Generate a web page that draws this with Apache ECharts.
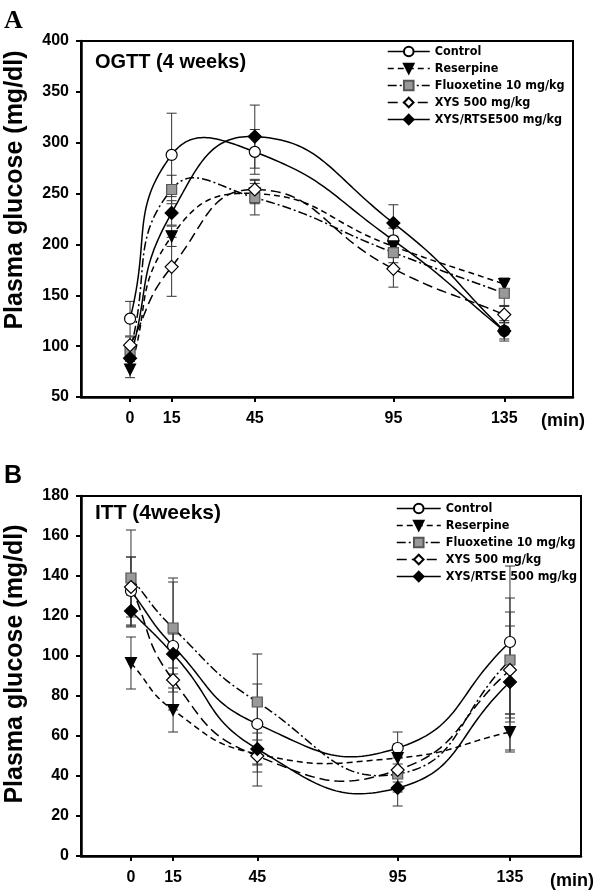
<!DOCTYPE html>
<html>
<head>
<meta charset="utf-8">
<script src="https://cdn.jsdelivr.net/npm/echarts@6/dist/echarts.min.js"></script>
<style>
html,body{margin:0;padding:0;background:#fff;}
#chart{width:600px;height:895px;}
</style>
</head>
<body>
<div id="chart"></div>
<script>
// ---- Data ----
const times = [0, 15, 45, 95, 135];
const namesA = ['Control', 'Reserpine', 'Fluoxetine 10 mg/kg', 'XYS 500 mg/kg', 'XYS/RTSE500 mg/kg'];
const namesB = ['Control', 'Reserpine', 'Fluoxetine 10 mg/kg', 'XYS 500 mg/kg', 'XYS/RTSE 500 mg/kg'];
const yTicksA = [50, 400, 50];   // min, max, step
const yTicksB = [0, 180, 20];

// OGTT (4 weeks) means and SE
const ogttControl    = [127, 288, 291, 204, 115];
const ogttControlSE  = [17, 41, 22, 12, 10];
const ogttReserpine  = [77, 208, 250, 198, 161];
const ogttReserpineSE= [8, 10, 10, 10, 6];
const ogttFluox      = [95, 254, 246, 192, 152];
const ogttFluoxSE    = [8, 14, 17, 10, 12];
const ogttXYS        = [101, 178, 254, 176, 131];
const ogttXYSSE      = [8, 29, 10, 18, 8];
const ogttRTSE       = [88, 231, 306, 221, 115];
const ogttRTSESE     = [6, 12, 31, 18, 8];

// ITT (4weeks) means and SE
const ittControl     = [132.5, 105, 66, 54, 107];
const ittControlSE   = [17, 32, 20, 8, 38];
const ittReserpine   = [96.5, 73, 51, 49, 62];
const ittReserpineSE = [13, 11, 16, 7, 9];
const ittFluox       = [139, 114, 77, 41, 98];
const ittFluoxSE     = [24, 25, 24, 9, 31];
const ittXYS         = [134.5, 88, 50, 43, 93];
const ittXYSSE       = [15, 6, 8, 6, 22];
const ittRTSE        = [122.5, 101, 53.5, 34, 87];
const ittRTSESE      = [8, 10, 8, 9, 35];

// ---- Styles ----
const FONT = '"Liberation Sans", Arial, sans-serif';
const NARROW = '"Liberation Sans Narrow", "DejaVu Sans Condensed", sans-serif';
const SMOOTH = 0.5;
const styles = [
  { symbol: 'circle', size: 11, fill: '#fff', border: '#000', dash: 'solid' },
  { symbol: 'triangle', rotate: 180, size: 11, fill: '#000', border: '#000', dash: [6, 4] },
  { symbol: 'rect', size: 10, fill: '#999', border: '#555', dash: [9, 3, 2, 3] },
  { symbol: 'diamond', size: 13, fill: '#fff', border: '#000', dash: [10, 5] },
  { symbol: 'diamond', size: 13, fill: '#000', border: '#000', dash: 'solid' }
];

function pairs(vals) { return times.map((t, i) => [t, vals[i]]); }
function errPairs(vals, se) { return times.map((t, i) => [t, vals[i], se[i]]); }

// unconstrained cardinal-style bezier through the plotted points (pixel space)
function smoothPath(P, smooth) {
  const n = P.length;
  const cps = [];
  for (let i = 0; i < n; i++) {
    const prev = P[Math.max(0, i - 1)], cur = P[i], next = P[Math.min(n - 1, i + 1)];
    const vx = (next[0] - prev[0]) * smooth, vy = (next[1] - prev[1]) * smooth;
    const d0 = Math.hypot(cur[0] - prev[0], cur[1] - prev[1]);
    const d1 = Math.hypot(next[0] - cur[0], next[1] - cur[1]);
    const s = d0 + d1 || 1;
    cps.push({
      in: [cur[0] - vx * d0 / s, cur[1] - vy * d0 / s],
      out: [cur[0] + vx * d1 / s, cur[1] + vy * d1 / s]
    });
  }
  const pts = [P[0]];
  const steps = 40;
  for (let i = 0; i < n - 1; i++) {
    const a = P[i], b = cps[i].out, c = cps[i + 1].in, d = P[i + 1];
    for (let k = 1; k <= steps; k++) {
      const t = k / steps, u = 1 - t;
      pts.push([
        u * u * u * a[0] + 3 * u * u * t * b[0] + 3 * u * t * t * c[0] + t * t * t * d[0],
        u * u * u * a[1] + 3 * u * u * t * b[1] + 3 * u * t * t * c[1] + t * t * t * d[1]
      ]);
    }
  }
  return pts;
}

function curveRenderer(dash) {
  return function (params, api) {
    if (params.dataIndexInside !== 0) return null;
    const n = params.dataInsideLength;
    const P = [];
    for (let i = 0; i < n; i++) P.push(api.coord([api.value(0, i), api.value(1, i)]));
    return {
      type: 'polyline',
      shape: { points: smoothPath(P, SMOOTH) },
      style: { stroke: '#000', lineWidth: 1.5, fill: null, lineDash: dash === 'solid' ? null : dash }
    };
  };
}

function errRender(params, api) {
  const x = api.value(0), m = api.value(1), s = api.value(2);
  const hi = api.coord([x, m + s]);
  const lo = api.coord([x, m - s]);
  const w = 5;
  const st = { stroke: '#333', lineWidth: 1 };
  return {
    type: 'group',
    children: [
      { type: 'line', shape: { x1: hi[0], y1: hi[1], x2: lo[0], y2: lo[1] }, style: st },
      { type: 'line', shape: { x1: hi[0] - w, y1: hi[1], x2: hi[0] + w, y2: hi[1] }, style: st },
      { type: 'line', shape: { x1: lo[0] - w, y1: lo[1], x2: lo[0] + w, y2: lo[1] }, style: st }
    ]
  };
}

function makeSeries(names, groups, gi) {
  const out = [];
  groups.forEach((g, k) => {
    out.push({
      name: 'err' + gi + '_' + k, type: 'custom',
      xAxisIndex: gi, yAxisIndex: gi,
      renderItem: errRender, encode: { x: 0, y: 1 },
      data: errPairs(g[0], g[1]), z: 2, silent: true
    });
  });
  groups.forEach((g, k) => {
    out.push({
      name: 'curve' + gi + '_' + k, type: 'custom',
      xAxisIndex: gi, yAxisIndex: gi,
      renderItem: curveRenderer(styles[k].dash), encode: { x: 0, y: 1 },
      data: pairs(g[0]), z: 3, silent: true
    });
  });
  groups.forEach((g, k) => {
    const s = styles[k];
    out.push({
      name: names[k], type: 'line',
      xAxisIndex: gi, yAxisIndex: gi,
      data: pairs(g[0]),
      symbol: s.symbol, symbolRotate: s.rotate || 0, symbolSize: s.size,
      showAllSymbol: true,
      lineStyle: { color: '#000', width: 1.5, type: s.dash, opacity: 0 },
      itemStyle: { color: s.fill, borderColor: s.border, borderWidth: 1.2 },
      z: 4 + k, animation: false
    });
  });
  return out;
}

const seriesA = makeSeries(namesA, [
  [ogttControl, ogttControlSE], [ogttReserpine, ogttReserpineSE], [ogttFluox, ogttFluoxSE],
  [ogttXYS, ogttXYSSE], [ogttRTSE, ogttRTSESE]
], 0);
const seriesB = makeSeries(namesB, [
  [ittControl, ittControlSE], [ittReserpine, ittReserpineSE], [ittFluox, ittFluoxSE],
  [ittXYS, ittXYSSE], [ittRTSE, ittRTSESE]
], 1);

const labelStyle = { fontSize: 16, fontWeight: 'bold', color: '#000', fontFamily: FONT };

function xAxisCfg(gi, min, max) {
  return {
    gridIndex: gi, type: 'value', min: min, max: max,
    axisLine: { show: true, onZero: false, lineStyle: { color: '#000', width: 2.5 } },
    axisTick: { show: true, inside: false, length: 5, customValues: times, lineStyle: { color: '#000', width: 2 } },
    axisLabel: Object.assign({ customValues: times, margin: 14 }, labelStyle),
    splitLine: { show: false }
  };
}
function yAxisCfg(gi, t) {
  return {
    gridIndex: gi, type: 'value', min: t[0], max: t[1], interval: t[2],
    axisLine: { show: true, onZero: false, lineStyle: { color: '#000', width: 2.5 } },
    axisTick: { show: true, inside: false, length: 5, lineStyle: { color: '#000', width: 2 } },
    axisLabel: Object.assign({ margin: 12 }, labelStyle),
    splitLine: { show: false }
  };
}

function legendData(names) {
  return names.map((nm, k) => ({
    name: nm,
    lineStyle: { color: '#000', width: 1.5, type: styles[k].dash, opacity: 1 }
  }));
}

const legendCommon = {
  orient: 'vertical',
  itemHeight: 12,
  itemGap: 4,
  selectedMode: false,
  textStyle: { fontSize: 12.5, fontWeight: 'bold', color: '#000', fontFamily: NARROW },
  padding: 0
};

const chart = echarts.init(document.getElementById('chart'), null, { renderer: 'canvas' });
chart.setOption({
  animation: false,
  backgroundColor: '#fff',
  grid: [
    { left: 81, top: 41, right: 27, height: 356, show: true, borderColor: '#000', borderWidth: 2, backgroundColor: 'transparent' },
    { left: 81, top: 496, right: 19, height: 360, show: true, borderColor: '#000', borderWidth: 2, backgroundColor: 'transparent' }
  ],
  xAxis: [xAxisCfg(0, -17.7, 159.8), xAxisCfg(1, -17.8, 160.3)],
  yAxis: [yAxisCfg(0, yTicksA), yAxisCfg(1, yTicksB)],
  legend: [
    Object.assign({ data: legendData(namesA), left: 387, top: 45, itemWidth: 42 }, legendCommon),
    Object.assign({ data: legendData(namesB), left: 396, top: 502, itemWidth: 44 }, legendCommon)
  ],
  series: seriesA.concat(seriesB),
  graphic: [
    { type: 'text', left: 4, top: 8, style: { text: 'A', font: 'bold 26px "Liberation Serif", "Times New Roman", serif', fill: '#000' } },
    { type: 'text', left: 4, top: 464, style: { text: 'B', font: 'bold 25px ' + FONT, fill: '#000' } },
    { type: 'text', x: 15, y: 190, rotation: Math.PI / 2, style: { text: 'Plasma glucose (mg/dl)', font: 'bold 25px ' + FONT, fill: '#000', align: 'center', verticalAlign: 'middle' } },
    { type: 'text', x: 15, y: 664, rotation: Math.PI / 2, style: { text: 'Plasma glucose (mg/dl)', font: 'bold 25px ' + FONT, fill: '#000', align: 'center', verticalAlign: 'middle' } },
    { type: 'text', x: 95, y: 62, style: { text: 'OGTT (4 weeks)', font: 'bold 20px ' + FONT, fill: '#000', verticalAlign: 'middle' } },
    { type: 'text', x: 95, y: 513, style: { text: 'ITT (4weeks)', font: 'bold 21px ' + FONT, fill: '#000', verticalAlign: 'middle' } },
    { type: 'text', x: 563, y: 421, style: { text: '(min)', font: 'bold 18px ' + FONT, fill: '#000', align: 'center', verticalAlign: 'middle' } },
    { type: 'text', x: 572, y: 881, style: { text: '(min)', font: 'bold 18px ' + FONT, fill: '#000', align: 'center', verticalAlign: 'middle' } }
  ]
});
</script>
</body>
</html>
